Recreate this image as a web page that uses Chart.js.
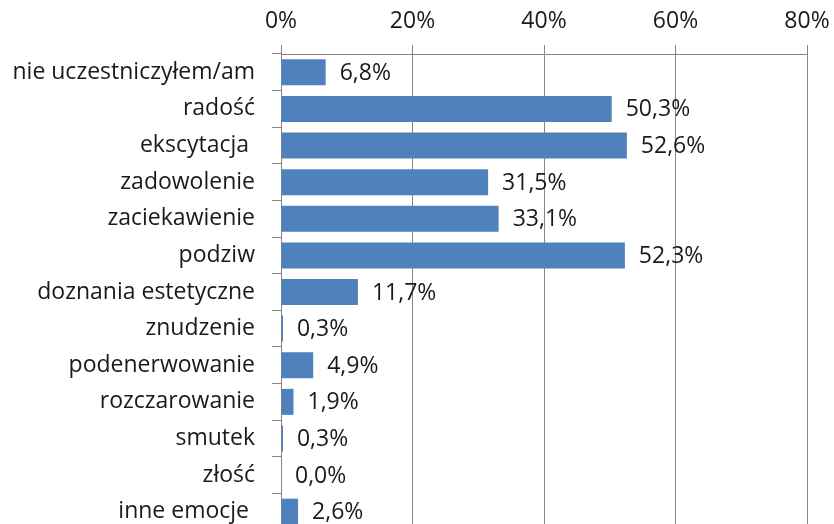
<!DOCTYPE html>
<html>
<head>
<meta charset="utf-8">
<script src="https://cdn.jsdelivr.net/npm/chart.js@4/dist/chart.umd.min.js"></script>
<style>
  html, body { margin: 0; padding: 0; background: #fff; overflow: hidden; }
  canvas { display: block; }
</style>
</head>
<body>
<canvas id="chart" width="834" height="540"></canvas>
<script>
// kategorie i udziały (%)
var categories = [
  'nie uczestniczyłem/am', 'radość', 'ekscytacja ', 'zadowolenie', 'zaciekawienie',
  'podziw', 'doznania estetyczne', 'znudzenie', 'podenerwowanie', 'rozczarowanie',
  'smutek', 'złość', 'inne emocje '
];
var values = [6.8, 50.3, 52.6, 31.5, 33.1, 52.3, 11.7, 0.3, 4.9, 1.9, 0.3, 0.0, 2.6];
var xTicks = [0, 20, 40, 60, 80];

var FONT = '"Open Sans", sans-serif';
var gridColor = '#868686';

function pct(v) { return v.toFixed(1).replace('.', ',') + '%'; }

// etykiety wartości przy końcu słupków
var valueLabels = {
  id: 'valueLabels',
  afterDatasetsDraw: function (chart) {
    var ctx = chart.ctx;
    var meta = chart.getDatasetMeta(0);
    ctx.save();
    ctx.font = '23px ' + FONT;
    ctx.fillStyle = '#1a1a1a';
    ctx.textAlign = 'left';
    ctx.textBaseline = 'middle';
    meta.data.forEach(function (bar, i) {
      ctx.fillText(pct(values[i]), bar.x + 14, bar.y + 1);
    });
    ctx.restore();
  }
};

new Chart(document.getElementById('chart'), {
  type: 'bar',
  data: {
    labels: categories,
    datasets: [{
      data: values,
      backgroundColor: '#4f81bd',
      borderWidth: 0,
      barPercentage: 0.71,
      categoryPercentage: 1
    }]
  },
  plugins: [valueLabels],
  options: {
    indexAxis: 'y',
    responsive: false,
    animation: false,
    layout: { padding: { top: 0, right: 27, bottom: 10, left: 0 } },
    plugins: { legend: { display: false }, tooltip: { enabled: false } },
    scales: {
      x: {
        position: 'top',
        min: 0,
        max: 80,
        afterBuildTicks: function (s) { s.ticks = xTicks.map(function (v) { return { value: v }; }); },
        afterFit: function (s) { s.height = 54; s.paddingLeft = 0; s.paddingRight = 0; },
        ticks: {
          padding: 10,
          color: '#1a1a1a',
          maxRotation: 0,
          font: { family: FONT, size: 23 },
          callback: function (v) { return v + '%'; }
        },
        grid: { color: gridColor, tickLength: 9, lineWidth: 1 },
        border: { color: gridColor }
      },
      y: {
        afterFit: function (s) { s.width = 281; s.paddingTop = 0; s.paddingBottom = 0; },
        ticks: {
          padding: 17,
          color: '#1a1a1a',
          autoSkip: false,
          font: { family: FONT, size: 23 }
        },
        grid: { drawOnChartArea: false, color: gridColor, tickLength: 9, offset: true },
        border: { color: gridColor }
      }
    }
  }
});
</script>
</body>
</html>
